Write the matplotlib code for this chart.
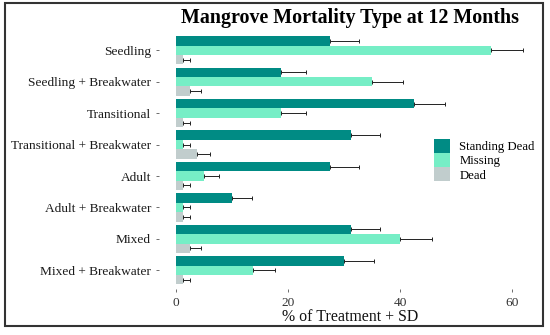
import matplotlib
matplotlib.use('Agg')
import matplotlib.pyplot as plt
from matplotlib.patches import Rectangle
import numpy as np

plt.rcParams['font.family'] = ['Liberation Serif', 'DejaVu Serif']

categories = ['Seedling', 'Seedling + Breakwater', 'Transitional', 'Transitional + Breakwater',
              'Adult', 'Adult + Breakwater', 'Mixed', 'Mixed + Breakwater']
standing = [27.5, 18.75, 42.5, 31.25, 27.5, 10.0, 31.25, 30.0]
standing_sd = [5.1, 4.4, 5.6, 5.2, 5.1, 3.5, 5.2, 5.3]
missing = [56.25, 35.0, 18.75, 1.25, 5.0, 1.25, 40.0, 13.75]
missing_sd = [5.8, 5.5, 4.4, 1.3, 2.7, 1.3, 5.7, 4.0]
dead = [1.25, 2.5, 1.25, 3.75, 1.25, 1.25, 2.5, 1.25]
dead_sd = [1.3, 1.9, 1.3, 2.4, 1.3, 1.3, 1.9, 1.3]

series = [('Standing Dead', standing, standing_sd, '#008B84'),
          ('Missing', missing, missing_sd, '#76EEC6'),
          ('Dead', dead, dead_sd, '#C1CDCD')]
xticks = [0, 20, 40, 60]

fig = plt.figure(figsize=(5.5, 3.35), dpi=100)
ax = fig.add_axes([0.2884, 0.137, 0.6965, 0.769])

y = np.arange(len(categories))
h = 0.30
for i, (name, vals, sd, col) in enumerate(series):
    pos = y + (i - 1) * h
    ax.barh(pos, vals, height=h, color=col, label=name, zorder=2)
    ax.errorbar(np.array(vals), pos, xerr=[np.zeros(len(vals)), sd], fmt='none',
                ecolor='#222222', elinewidth=0.7, capsize=1.5, capthick=0.7, zorder=3)

ax.set_xlim(-3.1, 65.3)
ax.set_ylim(7.6, -0.6)
ax.set_yticks(y)
ax.set_yticklabels(categories, fontsize=9.6, color='#1a1a1a')
ax.set_xticks(xticks)
ax.set_xticklabels([str(t) for t in xticks], fontsize=9.6, color='#333333')
ax.tick_params(axis='both', length=2.5, width=0.6, color='#555555', pad=3)
for s in ax.spines.values():
    s.set_visible(False)
ax.set_xlabel('% of Treatment + SD', fontsize=11.4, labelpad=0, color='#111111')
ax.set_title('Mangrove Mortality Type at 12 Months', fontsize=14.4, fontweight='bold', pad=6)

ax.legend(loc='upper left', bbox_to_anchor=(0.718, 0.583), frameon=False, fontsize=9.2,
          handlelength=1.25, handleheight=1.3, labelspacing=0.0, handletextpad=0.75,
          borderaxespad=0, borderpad=0)

fig.patches.append(Rectangle((5 / 550, 1 - 326 / 335), 538 / 550, 323 / 335,
                             transform=fig.transFigure, fill=False,
                             edgecolor='#333333', linewidth=1.5))

fig.savefig('out.png', dpi=100)
